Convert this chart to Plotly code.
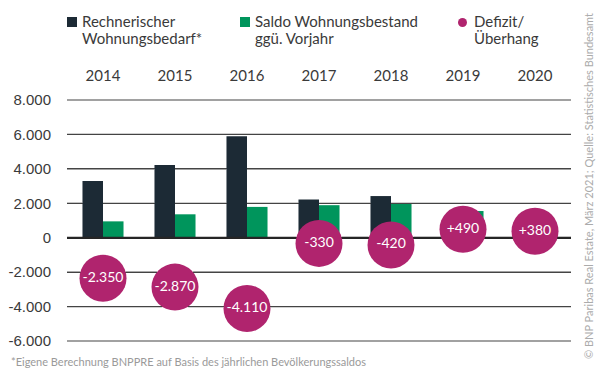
import math
import plotly.graph_objects as go

years = ["2014", "2015", "2016", "2017", "2018", "2019", "2020"]
bedarf = [3300, 4230, 5900, 2220, 2420, 1060, None]
saldo = [950, 1360, 1790, 1890, 2000, 1550, None]
defizit = [-2350, -2870, -4110, -330, -420, 490, 380]
defizit_labels = ["-2.350", "-2.870", "-4.110", "-330", "-420", "+490", "+380"]
ytick_vals = [8000, 6000, 4000, 2000, 0, -2000, -4000, -6000]
ytick_text = ["8.000", "6.000", "4.000", "2.000", "0", "-2.000", "-4.000", "-6.000"]

DARK = "#1c2a35"
GREEN = "#00955c"
MAGENTA = "#b0246e"
TEXT = "#3a3a3a"
GRID = "#444444"
ZERO = "#262626"
FONT = "Lato"

W, H = 600, 377
L, R, T, B = 67, 29, 100, 36
pw, ph = W - L - R, H - T - B
Y0, Y1 = -6000, 8000
BARGAP = 0.43
BUBBLE = 47

xi = list(range(len(years)))
X0, X1 = -0.5, len(years) - 0.5

fig = go.Figure()
fig.add_bar(x=xi, y=bedarf, name="Rechnerischer Wohnungsbedarf*", marker_color=DARK, marker_line_width=0)
fig.add_bar(x=xi, y=saldo, name="Saldo Wohnungsbestand ggü. Vorjahr", marker_color=GREEN, marker_line_width=0)
fig.add_scatter(x=xi, y=defizit, name="Defizit/Überhang", mode="markers+text",
                marker=dict(size=BUBBLE, color=MAGENTA, line_width=0),
                text=defizit_labels, textposition="middle center",
                textfont=dict(family=FONT, size=14, color="white"),
                cliponaxis=False)

def px(x):
    return (x - L) / pw

def py(y):
    return (H - B - y) / ph

def xpix(i):
    return L + (i - X0) * pw / (X1 - X0)

def ypix(v):
    return T + (Y1 - v) / (Y1 - Y0) * ph

def subtract(a, b, gaps):
    segs = []
    cur = a
    for g0, g1 in sorted(gaps):
        if g1 <= cur:
            continue
        if g0 > cur:
            segs.append((cur, min(g0, b)))
        cur = max(cur, g1)
        if cur >= b:
            break
    if cur < b:
        segs.append((cur, b))
    return [s for s in segs if s[1] - s[0] > 0.5]

shapes = []
annotations = []

# gridlines: thin filled bands in pixel space, leaving gaps where bars and bubbles sit on top
rad = BUBBLE / 2
cw = pw / len(years)
gw = (1 - BARGAP) * cw
for v in ytick_vals:
    gy = ypix(v)
    hw = 1.0 if v == 0 else 0.6
    gaps = []
    for i, d in enumerate(defizit):
        dy = abs(gy - ypix(d))
        if dy < rad:
            h = math.sqrt(rad * rad - dy * dy)
            gaps.append((xpix(i) - h, xpix(i) + h))
    if v > 0:
        for i, (b, s) in enumerate(zip(bedarf, saldo)):
            cx = xpix(i)
            if b is not None and b > v:
                gaps.append((cx - gw / 2, cx))
            if s is not None and s > v:
                gaps.append((cx, cx + gw / 2))
    for a, b in subtract(L, L + pw, gaps):
        shapes.append(dict(type="rect", xref="paper", yref="paper", x0=px(a), x1=px(b),
                           y0=py(gy + hw), y1=py(gy - hw),
                           fillcolor=ZERO if v == 0 else GRID, line_width=0))

# legend markers
shapes.append(dict(type="rect", xref="paper", yref="paper", x0=px(67), x1=px(77), y0=py(27), y1=py(17),
                   fillcolor=DARK, line_width=0))
shapes.append(dict(type="rect", xref="paper", yref="paper", x0=px(240), x1=px(250), y0=py(27), y1=py(17),
                   fillcolor=GREEN, line_width=0))
shapes.append(dict(type="circle", xref="paper", yref="paper", x0=px(458), x1=px(467), y0=py(27), y1=py(18),
                   fillcolor=MAGENTA, line_width=0))

legend_lines = [
    (80, ["Rechnerischer", "Wohnungsbedarf*"]),
    (253, ["Saldo Wohnungsbestand", "ggü. Vorjahr"]),
    (472, ["Defizit/", "Überhang"]),
]
for x0, lines in legend_lines:
    for i, line in enumerate(lines):
        annotations.append(dict(text=line, xref="paper", yref="paper", x=px(x0), y=py(21 + 16.5 * i),
                                xanchor="left", yanchor="middle", showarrow=False,
                                font=dict(family=FONT, size=15, color=TEXT)))

annotations.append(dict(text="*Eigene Berechnung BNPPRE auf Basis des jährlichen Bevölkerungssaldos",
                        xref="paper", yref="paper", x=px(9), y=py(361), xanchor="left", yanchor="middle",
                        showarrow=False, font=dict(family=FONT, size=11, color="#9a9a9a")))
annotations.append(dict(text="© BNP Paribas Real Estate, März 2021; Quelle: Statistisches Bundesamt",
                        xref="paper", yref="paper", x=px(588), y=py(186), xanchor="center", yanchor="middle",
                        textangle=-90, showarrow=False, font=dict(family=FONT, size=11, color="#ababab")))

fig.update_layout(
    width=W, height=H,
    margin=dict(l=L, r=R, t=T, b=B, pad=0, autoexpand=False),
    paper_bgcolor="white", plot_bgcolor="white",
    barmode="group", bargap=BARGAP, bargroupgap=0,
    showlegend=False,
    shapes=shapes, annotations=annotations,
    xaxis=dict(side="top", type="linear", range=[X0, X1], tickmode="array", tickvals=xi, ticktext=years,
               showgrid=False, showline=False, automargin=False,
               zeroline=False, ticks="outside", ticklen=12, tickcolor="rgba(0,0,0,0)",
               tickfont=dict(family=FONT, size=15, color=TEXT)),
    yaxis=dict(range=[Y0, Y1], tickmode="array", tickvals=ytick_vals, ticktext=ytick_text, automargin=False,
               showgrid=True, gridcolor=GRID, gridwidth=1,
               zeroline=True, zerolinecolor=ZERO, zerolinewidth=2,
               showline=False, ticks="outside", ticklen=12, tickcolor="rgba(0,0,0,0)",
               tickfont=dict(family="Liberation Sans", size=15, color=TEXT)),
)

fig.write_html("out.html", config={"displayModeBar": False, "staticPlot": True},
               post_script="document.body.style.margin='0';document.body.style.overflow='hidden';")
